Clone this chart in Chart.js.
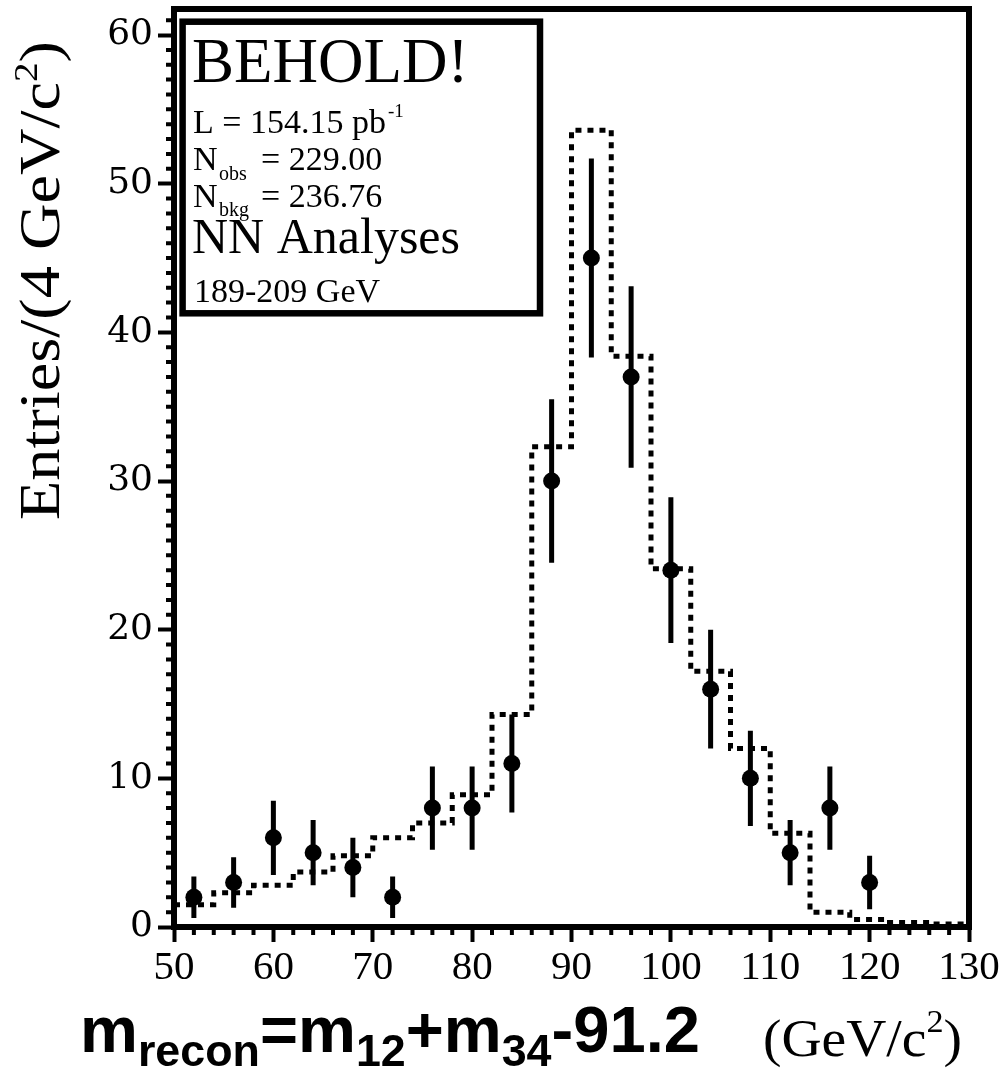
<!DOCTYPE html>
<html><head><meta charset="utf-8">
<script src="https://cdn.jsdelivr.net/npm/chart.js@4.4.1/dist/chart.umd.min.js"></script>
<style>html,body{margin:0;padding:0;background:#fff;}canvas{display:block;}</style>
</head><body>
<canvas id="c" width="1003" height="1073"></canvas>
<script>
// ---- data ----
const binEdges = [50,54,58,62,66,70,74,78,82,86,90,94,98,102,106,110,114,118,122,126,130];
const bkgValues = [1.5,2.3,2.8,3.7,4.8,6.0,7.0,8.9,14.3,32.3,53.6,38.4,24.1,17.2,12.0,6.3,1.0,0.5,0.3,0.2];
const obsMass = [52,56,60,64,68,72,76,80,84,88,92,96,100,104,108,112,116,120];
const obsCounts = [2,3,6,5,4,2,8,8,11,30,45,37,24,16,10,5,8,3];
const obsErrors = [1.4,1.7,2.5,2.2,2.0,1.4,2.8,2.8,3.3,5.5,6.7,6.1,4.9,4.0,3.2,2.2,2.8,1.8];
const xTicks = [50,60,70,80,90,100,110,120,130];
const yTicks = [0,10,20,30,40,50,60];
const xMinorTicks = [52,54,56,58,62,64,66,68,72,74,76,78,82,84,86,88,92,94,96,98,102,104,106,108,112,114,116,118,122,124,126,128];
const yMinorTicks = [1,2,3,4,5,6,7,8,9,11,12,13,14,15,16,17,18,19,21,22,23,24,25,26,27,28,29,31,32,33,34,35,36,37,38,39,41,42,43,44,45,46,47,48,49,51,52,53,54,55,56,57,58,59,61];
const legendTitle = 'BEHOLD!';
const lumiText = 'L = 154.15 pb';
const lumiSup = '-1';
const nObsText = '= 229.00';
const nBkgText = '= 236.76';
const analysisText = 'NN Analyses';
const energyText = '189-209 GeV';

// ---- build library datasets ----
const bkgData = binEdges.map((e, i) => ({x: e, y: bkgValues[Math.min(i, bkgValues.length - 1)]}));
const obsData = obsMass.map((x, i) => ({x: x, y: obsCounts[i]}));
const errData = [];
obsMass.forEach((x, i) => {
  errData.push({x: x, y: obsCounts[i] - obsErrors[i]});
  errData.push({x: x, y: obsCounts[i] + obsErrors[i]});
  errData.push({x: x, y: null});
});

function fitText(ctx, parts, x0, y0, targetW, rotate) {
  let w = 0;
  parts.forEach(p => { ctx.font = p.font; w += ctx.measureText(p.t).width; });
  const sx = targetW / w;
  ctx.save();
  ctx.translate(x0, y0);
  if (rotate) ctx.rotate(-Math.PI / 2);
  ctx.scale(sx, 1);
  ctx.fillStyle = '#000';
  ctx.textBaseline = 'alphabetic';
  ctx.textAlign = 'left';
  let cx = 0;
  parts.forEach(p => { ctx.font = p.font; ctx.fillText(p.t, cx, p.dy || 0); cx += ctx.measureText(p.t).width; });
  ctx.restore();
}

const decorPlugin = {
  id: 'decor',
  afterDatasetsDraw(chart) {
    const ctx = chart.ctx, a = chart.chartArea;
    const xs = chart.scales.x, ys = chart.scales.y;
    ctx.save();
    ctx.strokeStyle = '#000';
    ctx.lineWidth = 6;
    ctx.strokeRect(a.left, a.top, a.right - a.left, a.bottom - a.top);
    ctx.lineWidth = 4;
    ctx.beginPath();
    yMinorTicks.forEach(v => { const p = ys.getPixelForValue(v); ctx.moveTo(a.left - 8, p); ctx.lineTo(a.left, p); });
    xMinorTicks.forEach(v => { const p = xs.getPixelForValue(v); ctx.moveTo(p, a.bottom); ctx.lineTo(p, a.bottom + 8); });
    ctx.stroke();
    // legend box
    ctx.fillStyle = '#fff';
    ctx.fillRect(183, 22, 357, 292);
    ctx.lineWidth = 6.5;
    ctx.strokeRect(182.6, 21.7, 357.4, 291.6);
    ctx.fillStyle = '#000';
    ctx.textBaseline = 'alphabetic';
    ctx.textAlign = 'left';
    const serif = 'Liberation Serif';
    ctx.font = '63px "' + serif + '"';
    ctx.fillText(legendTitle, 192, 82);
    ctx.font = '34px "' + serif + '"';
    ctx.fillText(lumiText, 193, 133);
    let w = ctx.measureText(lumiText).width;
    ctx.font = '19px "' + serif + '"';
    ctx.fillText(lumiSup, 193 + w + 2, 117);
    ctx.font = '34px "' + serif + '"';
    ctx.fillText('N', 193, 170);
    ctx.fillText(nObsText, 261, 170);
    ctx.fillText('N', 193, 207);
    ctx.fillText(nBkgText, 261, 207);
    ctx.font = '20px "' + serif + '"';
    ctx.fillText('obs', 219, 180);
    ctx.fillText('bkg', 219, 216);
    ctx.font = '50px "' + serif + '"';
    ctx.fillText(analysisText, 192, 253);
    ctx.font = '34px "' + serif + '"';
    ctx.fillText(energyText, 194, 302);
    ctx.restore();
  },
  afterDraw(chart) {
    const ctx = chart.ctx;
    fitText(ctx, [
      {t: 'Entries/(4 GeV/c', font: '56px "Liberation Serif"'},
      {t: '2', font: '34px "Liberation Serif"', dy: -22},
      {t: ')', font: '56px "Liberation Serif"'}
    ], 58.5, 520, 479, true);
    const B = 'bold 64px "Liberation Sans"', S = 'bold 44px "Liberation Sans"';
    fitText(ctx, [
      {t: 'm', font: B}, {t: 'recon', font: S, dy: 14},
      {t: '=m', font: B}, {t: '12', font: S, dy: 14},
      {t: '+m', font: B}, {t: '34', font: S, dy: 14},
      {t: '-91.2', font: B}
    ], 80, 1052, 620, false);
    fitText(ctx, [
      {t: '(GeV/c', font: '52px "Liberation Serif"'},
      {t: '2', font: '32px "Liberation Serif"', dy: -24},
      {t: ')', font: '52px "Liberation Serif"'}
    ], 763, 1056, 199, false);
  }
};

function zeroPad(s) { s.paddingTop = 0; s.paddingBottom = 0; s.paddingLeft = 0; s.paddingRight = 0; }

new Chart(document.getElementById('c').getContext('2d'), {
  type: 'scatter',
  data: {
    datasets: [
      {label: 'Data', data: obsData, pointRadius: 8.5, pointHoverRadius: 8.5, pointBackgroundColor: '#000', pointBorderColor: '#000', pointBorderWidth: 0, showLine: false, clip: false},
      {type: 'line', label: 'Errors', data: errData, spanGaps: false, pointRadius: 0, borderColor: '#000', borderWidth: 5, borderCapStyle: 'butt', tension: 0, fill: false, clip: false},
      {type: 'line', label: 'Background', data: bkgData, stepped: 'before', pointRadius: 0, borderColor: '#000', borderWidth: 5, borderDash: [6, 6], borderCapStyle: 'butt', tension: 0, fill: false, clip: false}
    ]
  },
  options: {
    responsive: false, animation: false, devicePixelRatio: 1,
    events: [],
    layout: {autoPadding: false, padding: {left: 0, top: 9, right: 34, bottom: 0}},
    plugins: {legend: {display: false}, tooltip: {enabled: false}, title: {display: false}},
    scales: {
      x: {
        type: 'linear', position: 'bottom', min: 50, max: 130,
        afterBuildTicks: s => { s.ticks = xTicks.map(v => ({value: v})); },
        afterFit: s => { s.height = 146; zeroPad(s); },
        ticks: {font: {family: 'Liberation Serif', size: 41}, color: '#000', padding: 2, maxRotation: 0, autoSkip: false},
        grid: {drawOnChartArea: false, drawTicks: true, tickLength: 15, tickWidth: 4, tickColor: '#000'},
        border: {display: false}
      },
      y: {
        type: 'linear', position: 'left', min: 0, max: 61.75,
        afterBuildTicks: s => { s.ticks = yTicks.map(v => ({value: v})); },
        afterFit: s => { s.width = 174; zeroPad(s); },
        ticks: {font: {family: 'DejaVu Serif', size: 36}, color: '#000', padding: 5},
        grid: {drawOnChartArea: false, drawTicks: true, tickLength: 16, tickWidth: 4, tickColor: '#000'},
        border: {display: false}
      }
    }
  },
  plugins: [decorPlugin]
});
</script>
</body></html>
